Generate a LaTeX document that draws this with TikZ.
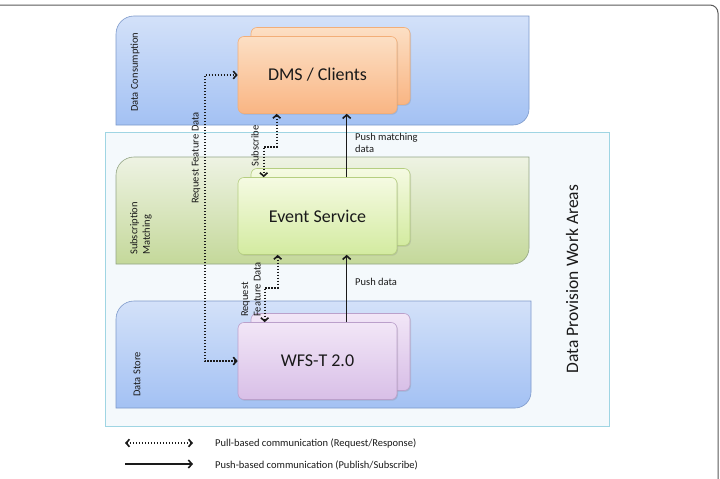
\documentclass[tikz,border=0pt]{standalone}
\usepackage{fontspec}
\setmainfont{Carlito}
\usetikzlibrary{arrows.meta,shadows}
\definecolor{bluetop}{HTML}{D3E1F9}
\definecolor{bluebot}{HTML}{A3C1F3}
\definecolor{blueline}{HTML}{7E9ACB}
\definecolor{greentop}{HTML}{EEF3E3}
\definecolor{greenbot}{HTML}{C4D89A}
\definecolor{greenline}{HTML}{93A585}
\definecolor{provfill}{HTML}{F4F9FC}
\definecolor{provline}{HTML}{9FD5E3}
\definecolor{orangetop}{HTML}{FCDFC4}
\definecolor{orangebot}{HTML}{F9B583}
\definecolor{orangeline}{HTML}{F2AE78}
\definecolor{limetop}{HTML}{F5FAE2}
\definecolor{limebot}{HTML}{D3EBA0}
\definecolor{limeline}{HTML}{B5CE80}
\definecolor{liltop}{HTML}{F2E6F7}
\definecolor{lilbot}{HTML}{D8BFE7}
\definecolor{lilline}{HTML}{BBA0CB}
\definecolor{framegray}{HTML}{5A5A5A}
\definecolor{ink}{HTML}{1A1A1A}
\begin{document}
\begin{tikzpicture}[x=1pt,y=-1pt,
  bluepanel/.style={draw=blueline,line width=0.6pt,top color=bluetop,bottom color=bluebot},
  greenpanel/.style={draw=greenline,line width=0.6pt,top color=greentop,bottom color=greenbot},
  svc/.style={rounded corners=6pt,line width=0.6pt,minimum width=159pt,minimum height=77pt,inner sep=0pt,
    font=\fontsize{18}{20}\selectfont,text=ink,
    drop shadow={shadow xshift=1pt,shadow yshift=-1.2pt,opacity=0.25}},
  dmsbox/.style={svc,draw=orangeline,top color=orangetop,bottom color=orangebot},
  esbox/.style={svc,draw=limeline,top color=limetop,bottom color=limebot},
  wfsbox/.style={svc,draw=lilline,top color=liltop,bottom color=lilbot},
  lbl/.style={font=\fontsize{10.5}{12.5}\selectfont,text=ink,inner sep=1pt},
  pull/.style={draw=ink,line width=1.7pt,dash pattern=on 1.6pt off 1.4pt,
    {Straight Barb[length=3.4pt,width=7.5pt,line width=1.6pt]}-{Straight Barb[length=3.4pt,width=7.5pt,line width=1.6pt]}},
  push/.style={draw=ink,line width=1.5pt,-{Straight Barb[length=3.6pt,width=8pt,line width=1.6pt]}}]
\useasboundingbox (0,0) rectangle (720,479);
\fill[white] (0,0) rectangle (720,479);
% outer frame
\draw[framegray,line width=1pt] (0,5) -- (710,5) arc[start angle=90,end angle=0,radius=8pt] -- (718,479);
% panels
\path[bluepanel] (116,125) -- (116,34) arc[start angle=180,end angle=90,radius=18pt] -- (529,16) -- (529,109) arc[start angle=0,end angle=-90,radius=16pt] -- cycle;
\draw[provline,fill=provfill,line width=0.8pt] (105,132) rectangle (609,426);
\path[greenpanel] (116,264) -- (116,175) arc[start angle=180,end angle=90,radius=18pt] -- (529,157) -- (529,248) arc[start angle=0,end angle=-90,radius=16pt] -- cycle;
\path[bluepanel] (116,408) -- (116,319) arc[start angle=180,end angle=90,radius=18pt] -- (531,301) -- (531,392) arc[start angle=0,end angle=-90,radius=16pt] -- cycle;
% panel labels
\node[lbl,rotate=90,anchor=west] (lcons) at (135,113) {Data Consumption};
\node[lbl,rotate=90,anchor=west,align=left] (lsub) at (141,256) {Subscription\\Matching};
\node[lbl,rotate=90,anchor=west] (lstore) at (137,398) {Data Store};
\node[rotate=90,font=\fontsize{17.5}{20}\selectfont,text=ink] (lprov) at (572,279) {Data Provision Work Areas};
% service boxes
\node[dmsbox] (dmsback) at (330.5,66) {};
\node[dmsbox] (dms) at (317.5,75) {DMS / Clients};
\node[esbox] (esback) at (330.5,207) {};
\node[esbox] (es) at (317.5,216) {Event Service};
\node[wfsbox] (wfsback) at (330.5,352) {};
\node[wfsbox] (wfs) at (317.5,361) {WFS-T 2.0};
% connectors
\draw[pull] (wfs.west) -- ++(-33,0) |- (dms.west);
\draw[pull] ([xshift=39pt]dms.south west) -- ++(0,33) -| ([xshift=26pt]es.north west);
\draw[pull] ([xshift=40pt]es.south west) -- ++(0,33) -| ([xshift=27pt]wfs.north west);
\draw[push] ([xshift=109pt]es.north west) -- ([xshift=109pt]dms.south west);
\draw[push] ([xshift=109pt]wfs.north west) -- ([xshift=109pt]es.south west);
% connector labels
\node[lbl,rotate=90] (lrfd) at (196,158) {Request Feature Data};
\node[lbl,rotate=90] (lsubs) at (255,146) {Subscribe};
\node[lbl,rotate=90,anchor=west,align=left] (lrfd2) at (251,318) {Request\\Feature Data};
\node[lbl,anchor=north west,align=left] (lpm) at (354,132) {Push matching\\data};
\node[lbl,anchor=west] (lpd) at (354,282) {Push data};
% legend
\coordinate (la1) at (125,443);
\coordinate (lb1) at (193,443);
\coordinate (la2) at (125,464);
\coordinate (lb2) at (193,464);
\draw[pull] (la1) -- (lb1);
\draw[push] (la2) -- (lb2);
\node[lbl,anchor=west] (leg1) at (214,443) {Pull-based communication (Request/Response)};
\node[lbl,anchor=west] (leg2) at (214,465) {Push-based communication (Publish/Subscribe)};
\end{tikzpicture}
\end{document}
